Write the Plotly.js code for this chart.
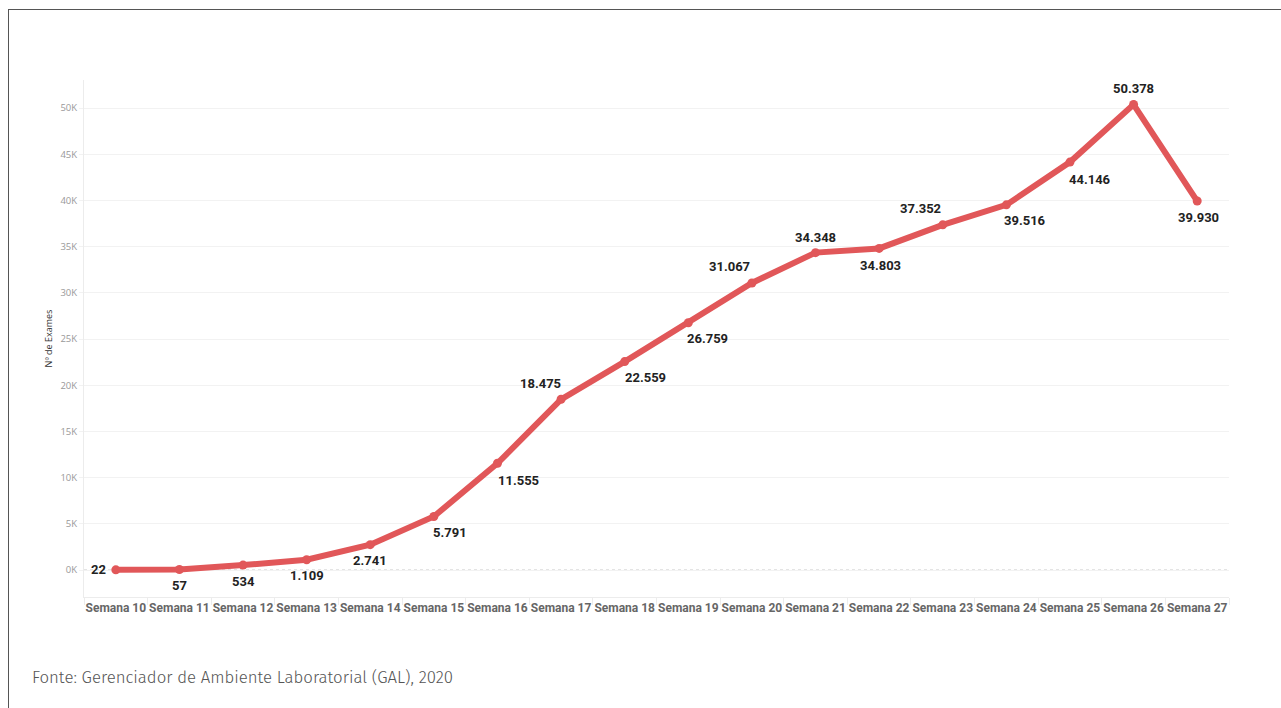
<!DOCTYPE html>
<html><head><meta charset="utf-8">
<script src="https://cdn.plot.ly/plotly-3.0.1.min.js"></script>
<style>
html,body{margin:0;padding:0;background:#fff;width:1281px;height:708px;overflow:hidden;}
#frame{position:absolute;left:8px;top:9px;width:1400px;height:800px;border-left:1px solid #555;border-top:1px solid #555;pointer-events:none;z-index:2;}
#chart{position:absolute;left:0;top:0;width:1281px;height:708px;}
#src{position:absolute;left:32px;top:667px;font-family:"Fira Sans","Noto Sans",sans-serif;font-size:16.8px;color:#555;font-weight:300;}
</style></head><body>
<div id="chart"></div>
<div id="frame"></div>
<div id="src">Fonte: Gerenciador de Ambiente Laboratorial (GAL), 2020</div>
<script>
const categories = ["Semana 10","Semana 11","Semana 12","Semana 13","Semana 14","Semana 15","Semana 16","Semana 17","Semana 18","Semana 19","Semana 20","Semana 21","Semana 22","Semana 23","Semana 24","Semana 25","Semana 26","Semana 27"];
const exames = [22,57,534,1109,2741,5791,11555,18475,22559,26759,31067,34348,34803,37352,39516,44146,50378,39930];
const yTickVals = [0,5000,10000,15000,20000,25000,30000,35000,40000,45000,50000];
const yTickText = ["0K","5K","10K","15K","20K","25K","30K","35K","40K","45K","50K"];
// label offsets (px) relative to each point
const labelDx = [-17,0,0,0,0,16,21,-21,21,19,-22,0,1,-22,19,20,0,1];
const labelDy = [0,-16,-16,-16,-16,-16,-17,16,-16,-16,16,15,-17,16,-16,-17,16,-16];

function fmt(v){ return String(v).replace(/\B(?=(\d{3})+(?!\d))/g, "."); }

const trace = {
  type:"scatter", mode:"lines+markers",
  x:categories, y:exames,
  line:{color:"#E15759", width:6},
  marker:{color:"#E15759", size:9},
  cliponaxis:false, hoverinfo:"skip"
};
const annotations = categories.map((c,i)=>({
  x:c, y:exames[i], xref:"x", yref:"y", text:fmt(exames[i]), showarrow:false,
  xanchor:"center", yanchor:"middle", xshift:labelDx[i], yshift:labelDy[i],
  font:{family:"Roboto, 'Noto Sans', sans-serif", size:13, color:"#222", weight:700}
}));
const layout = {
  width:1281, height:708,
  margin:{l:84, r:52, t:80, b:111},
  paper_bgcolor:"#fff", plot_bgcolor:"#fff",
  showlegend:false,
  font:{family:"Roboto, 'Noto Sans', sans-serif"},
  annotations:annotations,
  xaxis:{
    type:"category", range:[-0.5,17.5], tickangle:0,
    showgrid:false, showline:true, linecolor:"#ececec", linewidth:1,
    ticks:"outside", tickson:"boundaries", ticklen:7, tickcolor:"#ececec",
    tickfont:{family:"Roboto, sans-serif", size:12, color:"#666", weight:700},
    zeroline:false, fixedrange:true
  },
  yaxis:{
    range:[-2920,53030],
    tickvals:yTickVals, ticktext:yTickText,
    tickfont:{family:"'Open Sans', sans-serif", size:9.5, color:"#999"},
    showgrid:true, gridcolor:"#f2f2f2", gridwidth:1,
    zeroline:false,
    showline:true, linecolor:"#ececec", linewidth:1,
    ticks:"outside", ticklen:4, tickcolor:"#f2f2f2",
    title:{text:"Nº de Exames", font:{family:"'Open Sans', sans-serif", size:9, color:"#333"}, standoff:6},
    fixedrange:true
  },
  shapes:[{type:"line", xref:"paper", x0:0, x1:1, yref:"y", y0:0, y1:0, line:{color:"#c8c8c8", width:1, dash:"dot"}, layer:"below"}]
};
Plotly.newPlot("chart",[trace],layout,{displayModeBar:false, staticPlot:true});
</script>
</body></html>
